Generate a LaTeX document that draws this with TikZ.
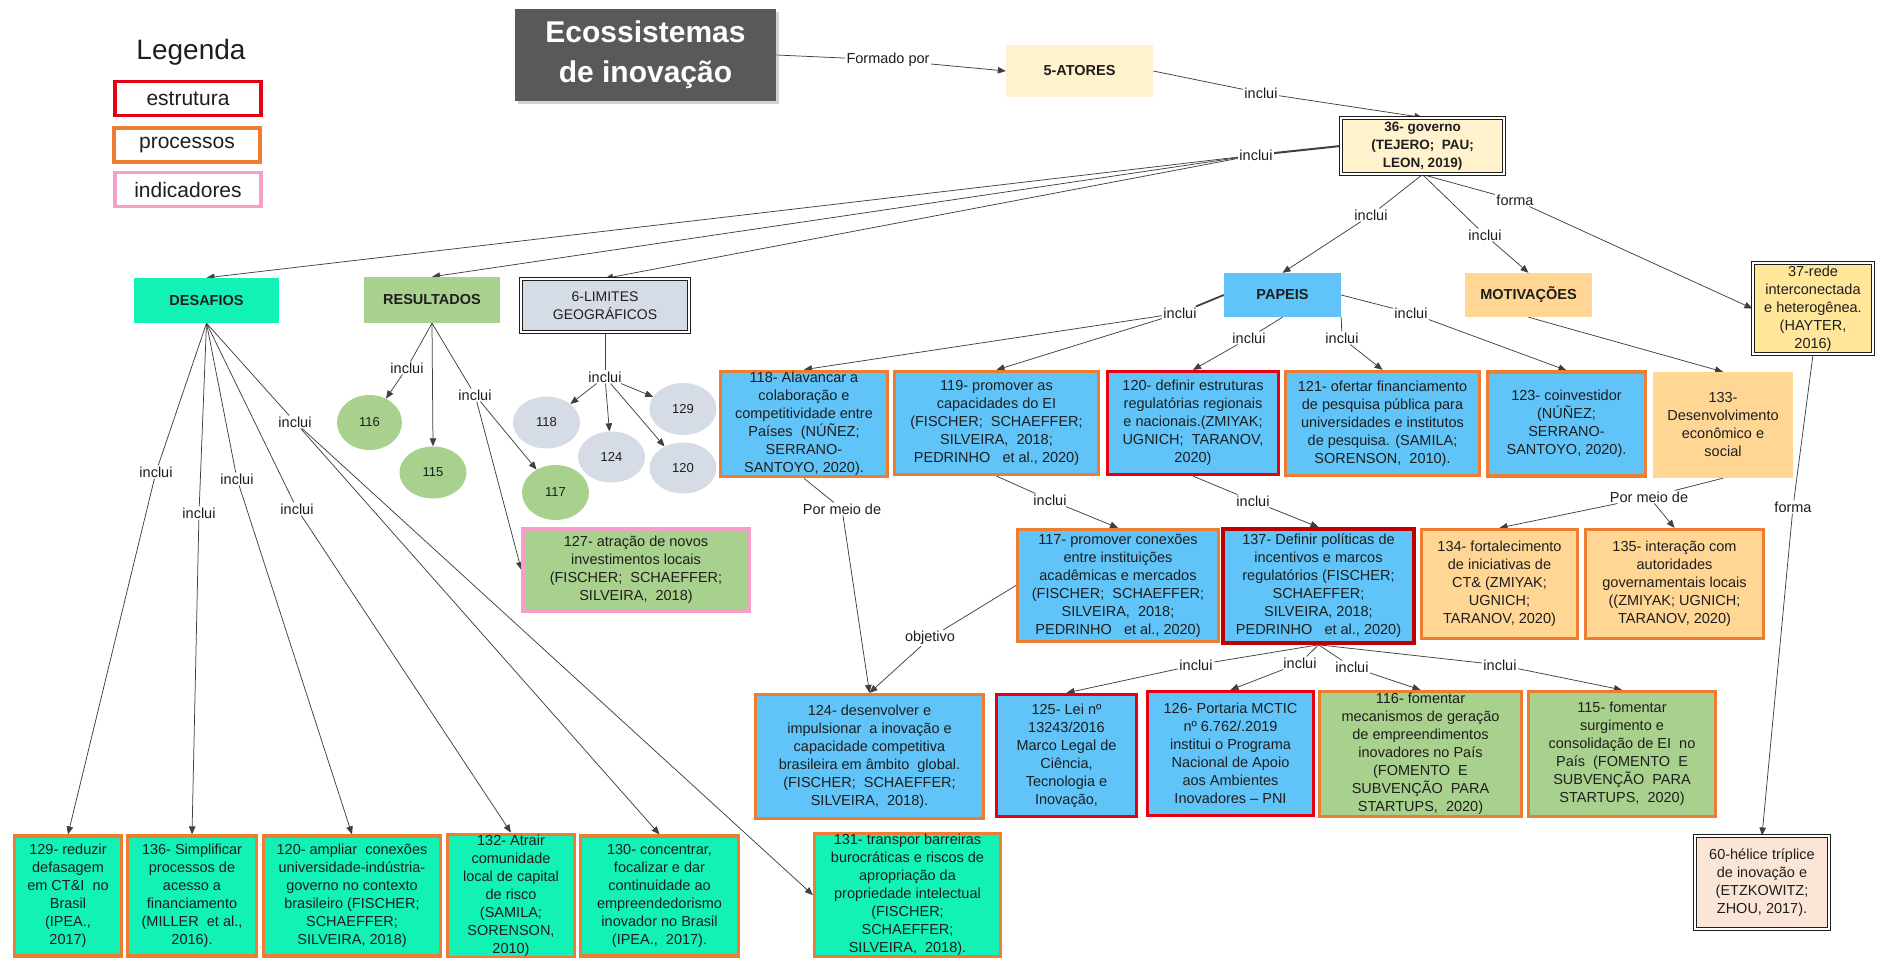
\documentclass[tikz,border=0pt]{standalone}
\usepackage{fontspec}
\setmainfont{Liberation Sans}
\usetikzlibrary{arrows.meta,shapes.geometric,shadows}
\definecolor{ecogray}{HTML}{595959}
\definecolor{cream}{HTML}{FFF2CC}
\definecolor{skyblue}{RGB}{96,196,248}
\definecolor{aqua}{RGB}{18,242,182}
\definecolor{leaf}{HTML}{A9D18E}
\definecolor{peachy}{RGB}{255,214,148}
\definecolor{sand}{HTML}{FFE699}
\definecolor{blush}{HTML}{FBE5D6}
\definecolor{mist}{HTML}{D6DCE5}
\definecolor{orangeB}{HTML}{ED7D31}
\definecolor{redB}{RGB}{230,0,20}
\definecolor{darkredB}{RGB}{192,0,0}
\definecolor{pinkB}{RGB}{245,160,200}
\definecolor{ink}{RGB}{30,30,30}
\pgfdeclarelayer{bg}
\pgfsetlayers{bg,main}
\begin{document}
\begin{tikzpicture}[x=1pt,y=-1pt,
  txt/.style={font=\fontsize{14.5}{18}\selectfont, text=ink, align=center},
  hd/.style={font=\fontsize{14.5}{18}\selectfont\bfseries},
  sz/.style 2 args={minimum width=#1pt, minimum height=#2pt},
  box/.style={txt, inner sep=1pt},
  proc/.style={box, draw=orangeB, line width=3.2pt},
  estr/.style={box, draw=redB, line width=3.2pt},
  indi/.style={box, draw=pinkB, line width=3.2pt},
  dbl/.style={box, draw=ink, line width=1.1pt, double=white, double distance=1.8pt},
  blob/.style={ellipse, inner sep=0pt, font=\fontsize{13}{15}\selectfont, text=ink},
  lbl/.style={txt, fill=white, inner sep=1pt},
  legbox/.style={inner sep=1pt, minimum width=146pt, minimum height=34pt, line width=3.2pt,
    font=\fontsize{21}{24}\selectfont, text=ink},
  con/.style={draw=ink!85, line width=0.75pt},
  arr/.style={con, -{Triangle[length=8pt,width=6.5pt]}}]
\useasboundingbox (0,0) rectangle (1879,958);

% ---------- legend ----------
\node[font=\fontsize{28}{30}\selectfont, text=ink] (leg) at (191,52) {Legenda};
\node[legbox, draw=redB] (legE) at (188,98.5) {estrutura};
\node[legbox, draw=orangeB] (legP) at (187,145) {processos};
\node[legbox, draw=pinkB] (legI) at (188,189.5) {indicadores};

% ---------- top ----------
\node[fill=ecogray, text=white, align=center, sz={261}{92}, inner sep=1pt,
  font=\fontsize{30}{40}\selectfont\bfseries,
  drop shadow={shadow xshift=3pt, shadow yshift=-3pt, fill=black!35}] (eco) at (645.5,55)
  {Ecossistemas\\de inovação};
\node[lbl] (formado) at (888,60) {Formado por};
\node[box, hd, fill=cream, sz={147}{52}] (atores) at (1079.5,71) {5-ATORES};
\node[lbl] (li1) at (1261,93) {inclui};
\node[dbl, fill=cream, sz={163}{56}, font=\fontsize{13.5}{18.3}\selectfont\bfseries] (gov) at (1422.5,146)
  {36- governo\\(TEJERO;\ \ PAU;\\LEON, 2019)};
\node[lbl] (li2) at (1256,155) {inclui};
\node[lbl] (forma1) at (1515,200) {forma};
\node[lbl] (li3) at (1371,215) {inclui};
\node[lbl] (li4) at (1485,235) {inclui};

% ---------- second tier ----------
\node[box, hd, fill=skyblue, sz={117}{44}] (papeis) at (1282.5,295) {PAPEIS};
\node[box, hd, fill=peachy, sz={127}{44}] (motiv) at (1528.5,295) {MOTIVAÇÕES};
\node[dbl, fill=sand, sz={120}{91}] (rede) at (1813,308.5)
  {37-rede\\interconectada\\e heterogênea.\\(HAYTER,\\2016)};
\node[box, hd, fill=aqua, sz={145}{45}] (des) at (206.5,300.5) {DESAFIOS};
\node[box, hd, fill=leaf, sz={136}{46}] (res) at (432,300) {RESULTADOS};
\node[dbl, fill=mist, sz={168}{53}, font=\fontsize{14}{18}\selectfont] (lim) at (605,305.5)
  {6-LIMITES\\GEOGRÁFICOS};

% ---------- result and limit bubbles ----------
\node[blob, fill=leaf, sz={65}{55}] (g116) at (369.5,422.5) {116};
\node[blob, fill=leaf, sz={67}{52}] (g115) at (433,472.5) {115};
\node[blob, fill=leaf, sz={67}{55}] (g117) at (555.5,492.5) {117};
\node[blob, fill=mist, sz={67}{52}] (c118) at (546.5,422.5) {118};
\node[blob, fill=mist, sz={67}{51}] (c124) at (611.5,457) {124};
\node[blob, fill=mist, sz={67}{52}] (c129) at (683,409) {129};
\node[blob, fill=mist, sz={67}{51}] (c120) at (683,468) {120};
\node[lbl] (r1) at (407,368) {inclui};
\node[lbl] (r2) at (475,395) {inclui};
\node[lbl] (gl1) at (605,377) {inclui};
\node[indi, fill=leaf, sz={226}{82}] (r127) at (636,570)
  {127- atração de novos\\investimentos locais\\(FISCHER;\ \ SCHAEFFER;\\SILVEIRA,\ \ 2018)};

% ---------- roles and motivations ----------
\node[lbl] (p1) at (1180,313) {inclui};
\node[lbl] (p2) at (1249,338) {inclui};
\node[lbl] (p3) at (1342,338) {inclui};
\node[lbl] (p4) at (1411,313) {inclui};
\node[proc, fill=skyblue, sz={167}{105}] (n118) at (804,424)
  {118- Alavancar a\\colaboração e\\competitividade entre\\Países\ \ (NÚÑEZ;\\SERRANO-\\SANTOYO, 2020).};
\node[proc, fill=skyblue, sz={204}{103}] (n119) at (996.5,423)
  {119- promover as\\capacidades do EI\\(FISCHER;\ \ SCHAEFFER;\\SILVEIRA,\ \ 2018;\\PEDRINHO\ \ \ et al., 2020)};
\node[estr, fill=skyblue, sz={171}{103}] (n120) at (1193,423)
  {120- definir estruturas\\regulatórias regionais\\e nacionais.(ZMIYAK;\\UGNICH;\ \ TARANOV,\\2020)};
\node[proc, fill=skyblue, sz={194}{104}] (n121) at (1382.5,423.5)
  {121- ofertar financiamento\\de pesquisa pública para\\universidades e institutos\\de pesquisa. (SAMILA;\\SORENSON,\ \ 2010).};
\node[proc, fill=skyblue, sz={158}{104}] (n123) at (1566.5,424)
  {123- coinvestidor\\(NÚÑEZ;\\SERRANO-\\SANTOYO, 2020).};
\node[box, fill=peachy, sz={140}{106}] (n133) at (1723,425)
  {133-\\Desenvolvimento\\econômico e\\social};

% ---------- third tier ----------
\node[lbl] (i1) at (1050,500) {inclui};
\node[lbl] (i2) at (1253,501) {inclui};
\node[lbl] (pm1) at (842,509) {Por meio de};
\node[lbl] (obj) at (930,638) {objetivo};
\node[lbl] (pm2) at (1649,497) {Por meio de};
\node[lbl] (f2) at (1793,507) {forma};
\node[proc, fill=skyblue, sz={201}{112}] (n117) at (1118,585.5)
  {117- promover conexões\\entre instituições\\acadêmicas e mercados\\(FISCHER;\ \ SCHAEFFER;\\SILVEIRA,\ \ 2018;\\PEDRINHO\ \ \ et al., 2020)};
\node[box, draw=darkredB, line width=3.6pt, fill=skyblue, sz={191}{114}] (n137) at (1318.5,586)
  {137- Definir políticas de\\incentivos e marcos\\regulatórios (FISCHER;\\SCHAEFFER;\\SILVEIRA, 2018;\\PEDRINHO\ \ \ et al., 2020)};
\node[proc, fill=peachy, sz={156}{109}] (n134) at (1499.5,584)
  {134- fortalecimento\\de iniciativas de\\CT\& (ZMIYAK;\\UGNICH;\\TARANOV, 2020)};
\node[proc, fill=peachy, sz={178}{109}] (n135) at (1674.5,584)
  {135- interação com\\autoridades\\governamentais locais\\((ZMIYAK; UGNICH;\\TARANOV, 2020)};

% ---------- fourth tier ----------
\node[lbl] (j1) at (1196,665) {inclui};
\node[lbl] (j2) at (1300,663) {inclui};
\node[lbl] (j3) at (1352,667) {inclui};
\node[lbl] (j4) at (1500,665) {inclui};
\node[proc, fill=skyblue, sz={228}{124}] (n124) at (869.5,756.5)
  {124- desenvolver e\\impulsionar\ \ a inovação e\\capacidade competitiva\\brasileira em âmbito\ \ global.\\(FISCHER;\ \ SCHAEFFER;\\SILVEIRA,\ \ 2018).};
\node[estr, fill=skyblue, sz={140}{122}] (n125) at (1066.5,755.5)
  {125- Lei nº\\13243/2016\\Marco Legal de\\Ciência,\\Tecnologia e\\Inovação,};
\node[estr, fill=skyblue, sz={166}{124}] (n126) at (1230.5,753.5)
  {126- Portaria MCTIC\\nº 6.762/.2019\\institui o Programa\\Nacional de Apoio\\aos Ambientes\\Inovadores – PNI};
\node[proc, fill=leaf, sz={202}{125}] (n116) at (1420.5,754)
  {116- fomentar\\mecanismos de geração\\de empreendimentos\\inovadores no País\\(FOMENTO\ \ E\\SUBVENÇÃO\ \ PARA\\STARTUPS,\ \ 2020)};
\node[proc, fill=leaf, sz={187}{125}] (n115) at (1622,754)
  {115- fomentar\\surgimento e\\consolidação de EI\ \ no\\País\ \ (FOMENTO\ \ E\\SUBVENÇÃO\ \ PARA\\STARTUPS,\ \ 2020)};
\node[dbl, fill=blush, sz={134}{93}] (helice) at (1762,882.5)
  {60-hélice tríplice\\de inovação e\\(ETZKOWITZ;\\ZHOU, 2017).};

% ---------- challenges ----------
\node[lbl] (d1) at (295,422) {inclui};
\node[lbl] (d2) at (156,472) {inclui};
\node[lbl] (d3) at (237,479) {inclui};
\node[lbl] (d4) at (199,513) {inclui};
\node[lbl] (d5) at (297,509) {inclui};
\node[proc, fill=aqua, sz={107}{120}] (b129) at (68,896)
  {129- reduzir\\defasagem\\em CT\&I\ \ no\\Brasil\\(IPEA.,\\2017)};
\node[proc, fill=aqua, sz={129}{120}] (b136) at (192,896)
  {136- Simplificar\\processos de\\acesso a\\financiamento\\(MILLER\ \ et al.,\\2016).};
\node[proc, fill=aqua, sz={177}{120}] (b120) at (352,896)
  {120- ampliar\ \ conexões\\universidade-indústria-\\governo no contexto\\brasileiro (FISCHER;\\SCHAEFFER;\\SILVEIRA, 2018)};
\node[proc, fill=aqua, sz={127}{120}] (b132) at (511,896)
  {132- Atrair\\comunidade\\local de capital\\de risco\\(SAMILA;\\SORENSON,\\2010)};
\node[proc, fill=aqua, sz={158}{120}] (b130) at (659.5,896)
  {130- concentrar,\\focalizar e dar\\continuidade ao\\empreendedorismo\\inovador no Brasil\\(IPEA.,\ \ 2017).};
\node[proc, fill=aqua, sz={186}{121}] (b131) at (907.5,895)
  {131- transpor barreiras\\burocráticas e riscos de\\apropriação da\\propriedade intelectual\\(FISCHER;\\SCHAEFFER;\\SILVEIRA,\ \ 2018).};

% ---------- connectors ----------
\begin{pgfonlayer}{bg}
\draw[con] (eco.east) -- (formado);
\draw[arr] (formado) -- (atores.west);
\draw[con] (atores.east) -- (li1);
\draw[arr] (li1) -- (gov.north);
\draw[con, line width=2pt] (li2) -- (gov.west);
\draw[arr] (li2) -- (des.north);
\draw[arr] (li2) -- (res.north);
\draw[arr] (li2) -- (lim.north);
\draw[con] (gov.south) -- (li3);
\draw[arr] (li3) -- (papeis.north);
\draw[con] (gov.south) -- (li4);
\draw[arr] (li4) -- (motiv.north);
\draw[con] (gov.south) -- (forma1);
\draw[arr] (forma1) -- (rede.west);
% roles
\draw[con, line width=1.8pt] (papeis.west) -- (p1);
\draw[arr] (p1) -- (n118.north);
\draw[arr] (p1) -- (n119.north);
\draw[con] (papeis.south) -- (p2);
\draw[arr] (p2) -- (n120.north);
\draw[con] (papeis.south east) -- (p3);
\draw[arr] (p3) -- (n121.north);
\draw[con] (papeis.east) -- (p4);
\draw[arr] (p4) -- (n123.north);
\draw[arr] (motiv.south) -- (n133.north);
% lower tiers
\draw[con] (n119.south) -- (i1);
\draw[arr] (i1) -- (n117.north);
\draw[con] (n120.south) -- (i2);
\draw[arr] (i2) -- (n137.north);
\draw[con] (n118.south) -- (pm1);
\draw[arr] (pm1) -- (n124.north);
\draw[con] (n117.west) -- (obj);
\draw[arr] (obj) -- (n124.north);
\draw[con] (n133.south) -- (pm2);
\draw[arr] (pm2) -- (n134.north);
\draw[arr] (pm2) -- (n135.north);
\draw[con] (rede.south) -- (f2);
\draw[arr] (f2) -- (helice.north);
\foreach \l in {j1,j2,j3,j4} \draw[con] (n137.south) -- (\l);
\draw[arr] (j1) -- (n125.north);
\draw[arr] (j2) -- (n126.north);
\draw[arr] (j3) -- (n116.north);
\draw[arr] (j4) -- (n115.north);
% results and limits
\draw[con] (res.south) -- (r1);
\draw[arr] (r1) -- (g116);
\draw[arr] (res.south) -- (g115.north);
\draw[con] (res.south) -- (r2);
\draw[arr] (r2) -- (g117);
\draw[arr] (r2) -- (r127.west);
\draw[con] (lim.south) -- (gl1);
\draw[arr] (gl1) -- (c118);
\draw[arr] (gl1) -- (c124);
\draw[arr] (gl1) -- (c129);
\draw[arr] (gl1) -- (c120);
% challenges
\foreach \l in {d1,d2,d3,d4,d5} \draw[con] (des.south) -- (\l);
\draw[arr] (d2) -- (b129.north);
\draw[arr] (d4) -- (b136.north);
\draw[arr] (d3) -- (b120.north);
\draw[arr] (d5) -- (b132.north);
\draw[arr] (d1) -- (b130.north);
\draw[arr] (d1) -- (b131.west);
\end{pgfonlayer}
\end{tikzpicture}
\end{document}
